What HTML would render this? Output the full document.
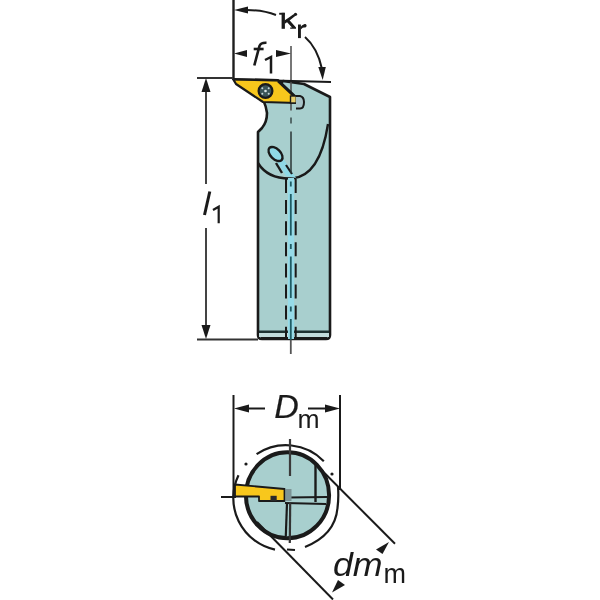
<!DOCTYPE html>
<html><head><meta charset="utf-8">
<style>
html,body{margin:0;padding:0;background:#fff;width:600px;height:600px;overflow:hidden}
svg{display:block;will-change:transform}
text{font-family:"Liberation Sans",sans-serif}
</style></head>
<body>
<svg width="600" height="600" viewBox="0 0 600 600">
<rect width="600" height="600" fill="#fff"/>

<!-- ============ SIDE VIEW ============ -->
<!-- body -->
<path d="M264,102 L283,81 L304,84 L330,97 L330,335 Q330,339 326,339 L262,339 Q258,339 258,335 L258,132 L262,128 Q267,122 267,113 Q266,106 264,102 Z" fill="#a8cfce" stroke="#1a1a1a" stroke-width="2.6" stroke-linejoin="round"/>
<!-- chamfer line at bottom -->
<rect x="259" y="333" width="70" height="4" fill="#c2dcdc"/>
<line x1="259" y1="331.8" x2="329" y2="331.8" stroke="#1e3232" stroke-width="2.4"/>
<line x1="261" y1="338.4" x2="327" y2="338.4" stroke="#1a1a1a" stroke-width="3"/>
<!-- head arc -->
<path d="M258,163 C266,176 280,179 292,178.5 C309,177 322,163 328,124" fill="none" stroke="#1a1a1a" stroke-width="2.4"/>

<!-- coolant channel cyan -->
<rect x="288" y="178" width="6" height="161" fill="#96dbe8"/>
<path d="M276,160 L286,176 L296,178 L283,158 Z" fill="#8fd9e6"/>
<!-- ellipse hole -->
<ellipse cx="275.5" cy="154" rx="8.6" ry="5" transform="rotate(45 275.5 154)" fill="#8fd9e6" stroke="#1a1a1a" stroke-width="2.4"/>
<line x1="276" y1="163" x2="282" y2="173" stroke="#1a1a1a" stroke-width="2.4"/>
<line x1="286" y1="165" x2="292" y2="174" stroke="#1a1a1a" stroke-width="2.2"/>
<!-- dashed channel lines -->
<line x1="286" y1="179" x2="286" y2="339" stroke="#1a1a1a" stroke-width="2" stroke-dasharray="14,7.1"/>
<line x1="295.7" y1="179" x2="295.7" y2="339" stroke="#1a1a1a" stroke-width="2" stroke-dasharray="14,7.1"/>

<!-- center line -->
<line x1="291" y1="46" x2="291" y2="110.5" stroke="#4a4a4a" stroke-width="1.5"/>
<line x1="291" y1="117.5" x2="291" y2="123.5" stroke="#3a4a4a" stroke-width="1.5"/>
<line x1="291" y1="131.5" x2="291" y2="173" stroke="#2a3434" stroke-width="1.5"/>
<line x1="290.8" y1="181.5" x2="290.8" y2="340" stroke="#1f5c64" stroke-width="1.8" stroke-dasharray="5,7.5,41.5,8.5"/>

<line x1="290.8" y1="340" x2="290.8" y2="354" stroke="#555" stroke-width="1.8"/>
<!-- insert -->
<path d="M233,79 L278,80 L296,97 L297,103 L263,102 L236,84 Z" fill="#f8c71c" stroke="#1a1a1a" stroke-width="2.2" stroke-linejoin="round"/>
<line x1="278" y1="81" x2="296" y2="98" stroke="#1a1a1a" stroke-width="2.6"/>
<!-- screw -->
<circle cx="265.5" cy="91" r="6.9" fill="#3a5458" stroke="#1a1a1a" stroke-width="2.2"/>
<circle cx="265.5" cy="91" r="1.3" fill="#d8e4e6"/>
<circle cx="262.3" cy="88.2" r="1" fill="#c8d8da"/>
<circle cx="268.7" cy="88.2" r="1" fill="#c8d8da"/>
<circle cx="262.3" cy="93.8" r="1" fill="#c8d8da"/>
<circle cx="268.7" cy="93.8" r="1" fill="#c8d8da"/>
<!-- clamp pin -->
<rect x="290.5" y="96" width="5.8" height="7" fill="#e8cf6a" stroke="#1a1a1a" stroke-width="1.4"/>
<path d="M296,96 L300,96 Q304,97 304,102 Q304,108.5 300,108.5 L296,108.5" fill="#a9c4c8" stroke="#1a1a1a" stroke-width="2"/>

<!-- top reference line (kr) -->
<line x1="233" y1="79.5" x2="331" y2="82" stroke="#1a1a1a" stroke-width="2"/>

<!-- kr extension vertical -->
<line x1="233.5" y1="0" x2="233.5" y2="80" stroke="#1e1e1e" stroke-width="2.4"/>

<!-- kr arrow top -->
<path d="M234,10 L248,6.5 L248,13.5 Z" fill="#1a1a1a"/>
<path d="M247,10 C258,10 266,11 276,15" fill="none" stroke="#1a1a1a" stroke-width="2"/>
<!-- kappa r -->
<g fill="#1a1a1a" stroke="none">
<rect x="281.6" y="12.8" width="3.3" height="16"/>
<rect x="279.2" y="12.8" width="5.5" height="1.9"/>
<path d="M284.5,20.5 Q289,17.5 293.5,14.2 L295.5,15.8 Q290,20.5 284.5,24 Z"/>
<circle cx="295.5" cy="14.3" r="1.6"/>
<path d="M285.5,20.5 L288.2,18.8 L296,27.5 L296,28.8 L290.2,28.8 L290.2,27.5 L292,27.5 Z"/>
<rect x="298" y="24.5" width="2.9" height="13.6"/>
<path d="M300.5,27.5 Q302,24.2 305.8,24.2 L305.8,27.2 Q302.5,27 300.8,29.5 Z"/>
<circle cx="305" cy="25.7" r="1.6"/>
</g>
<!-- curved arrow -->
<path d="M305,37 C313,44 319,55 322,69" fill="none" stroke="#1a1a1a" stroke-width="2"/>
<path d="M322.7,80 L318.3,67 L325.8,67 Z" fill="#1a1a1a"/>

<!-- f1 dimension -->
<path d="M234,53.5 L247,50 L247,57 Z" fill="#1a1a1a"/>
<path d="M291,53.5 L276,50 L276,57 Z" fill="#1a1a1a"/>
<line x1="276" y1="53.5" x2="282" y2="53.5" stroke="#1a1a1a" stroke-width="2"/>
<g stroke="#1a1a1a" fill="none" stroke-width="2.6" stroke-linecap="butt"><path d="M254.3,65.5 L259.5,46 Q260.8,42.5 266.5,42.8"/><path d="M253.7,49 L263.6,49"/></g>
<path d="M265,60 L271,57 L271,73.4" stroke="#1a1a1a" fill="none" stroke-width="2.5"/>

<!-- l1 dimension -->
<line x1="197" y1="78" x2="233" y2="78" stroke="#333" stroke-width="2"/>
<line x1="197" y1="339.5" x2="258" y2="339.5" stroke="#333" stroke-width="2"/>
<line x1="206" y1="88" x2="206" y2="184" stroke="#444" stroke-width="2"/>
<line x1="206" y1="228" x2="206" y2="330" stroke="#444" stroke-width="2"/>
<path d="M206,78 L201.5,92 L210.5,92 Z" fill="#1a1a1a"/>
<path d="M206,339 L201.5,325 L210.5,325 Z" fill="#1a1a1a"/>
<path d="M209.8,191.5 L204.5,215" stroke="#1a1a1a" fill="none" stroke-width="3"/>
<path d="M213,210 L218.7,206.7 L218.7,223.3" stroke="#1a1a1a" fill="none" stroke-width="2.2"/>

<!-- ============ END VIEW ============ -->
<!-- Dm dimension -->
<line x1="233.5" y1="395" x2="233.5" y2="497" stroke="#1a1a1a" stroke-width="2"/>
<line x1="340" y1="395" x2="340" y2="490" stroke="#1a1a1a" stroke-width="2"/>
<path d="M234,408.5 L249,404.5 L249,412.5 Z" fill="#1a1a1a"/>
<line x1="248" y1="408.5" x2="265" y2="408.5" stroke="#1a1a1a" stroke-width="2"/>
<path d="M340,408.5 L325,404.5 L325,412.5 Z" fill="#1a1a1a"/>
<line x1="308" y1="408.5" x2="326" y2="408.5" stroke="#1a1a1a" stroke-width="2"/>
<text x="274.3" y="418" font-size="34" font-style="italic" fill="#1a1a1a" stroke="#1a1a1a" stroke-width="0.2">D</text>
<text x="297.5" y="427.5" font-size="26.5" fill="#1a1a1a">m</text>

<!-- outer dashed ring -->
<g fill="none" stroke="#1a1a1a" stroke-width="2.2">
<path d="M256.6,454.2 A52.7,52.7 0 0 1 323.8,461.2"/>
<path d="M238.5,475.2 A52.7,52.7 0 0 0 275,549.6"/>
<path d="M305,547 C325,539 336,525 337.5,508 C338.5,500 338.5,493 338,487"/>
<path d="M287,549.5 L295,550" stroke-width="1.8"/>
</g>
<circle cx="246" cy="464" r="1.6" fill="#1a1a1a"/>
<circle cx="332" cy="474" r="1.6" fill="#1a1a1a"/>

<!-- body circle -->
<ellipse cx="287.5" cy="495.3" rx="41.6" ry="43" fill="#a8cfce" stroke="#1a1a1a" stroke-width="4"/>
<!-- cross lines -->
<line x1="290" y1="439" x2="290" y2="476" stroke="#3a3a3a" stroke-width="2.2"/>
<line x1="315.5" y1="465" x2="315.5" y2="502" stroke="#1a1a1a" stroke-width="2.4"/>
<line x1="288" y1="497.5" x2="327" y2="497" stroke="#1a1a1a" stroke-width="2.2"/>
<line x1="285" y1="503" x2="326" y2="504" stroke="#1a1a1a" stroke-width="2.2"/>
<rect x="286" y="489" width="5.5" height="12" fill="#7d9496"/>
<line x1="287" y1="503" x2="285.8" y2="536" stroke="#1a1a1a" stroke-width="2.2"/>
<line x1="290.2" y1="502" x2="289.8" y2="543" stroke="#333" stroke-width="2.2"/>
<line x1="221" y1="497" x2="236" y2="497" stroke="#1a1a1a" stroke-width="2"/>
<!-- end insert -->
<path d="M235,484.5 L284.5,489 L284.5,501 L259,501 L259,496.5 L235,496.5 Z" fill="#f8c71c" stroke="#1a1a1a" stroke-width="1.8" stroke-linejoin="round"/>
<rect x="270.5" y="495.8" width="6.2" height="5.2" fill="#2a2a2a"/>

<!-- dm dimension -->
<line x1="319" y1="467.5" x2="395" y2="543.8" stroke="#1a1a1a" stroke-width="2"/>
<line x1="257" y1="522" x2="333" y2="599.5" stroke="#1a1a1a" stroke-width="2"/>
<path d="M389,542 L376,549.5 L382.5,554 Z" fill="#1a1a1a"/>
<path d="M332,592.5 L338,580 L345,585 Z" fill="#1a1a1a"/>
<text x="333" y="576.5" font-size="32.5" font-style="italic" fill="#1a1a1a" transform="translate(333 0) scale(1.1 1) translate(-333 0)">dm</text>
<text x="383.5" y="583" font-size="27" fill="#1a1a1a">m</text>
</svg>
</body></html>
